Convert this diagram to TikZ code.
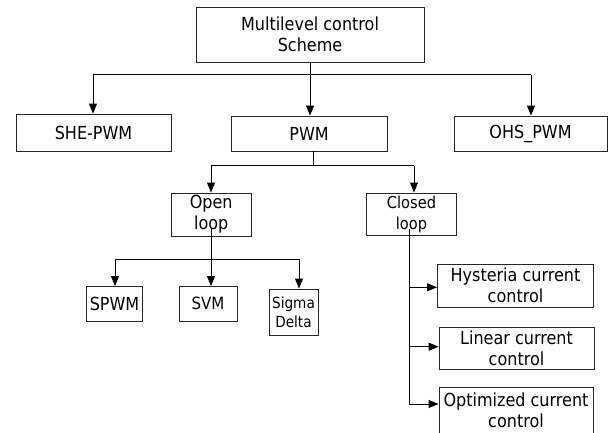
\documentclass[tikz,border=0pt]{standalone}
\usepackage{fontspec}
\setmainfont[FakeStretch=0.89]{DejaVu Sans}
\usetikzlibrary{arrows.meta,calc}
\begin{document}
\begin{tikzpicture}[x=1pt,y=-1pt,
  box/.style={draw=black!85,line width=0.9pt,rectangle,inner sep=0pt,align=center,
    font=\fontsize{18}{21}\selectfont},
  conn/.style={draw=black,line width=0.9pt},
  arr/.style={conn,-{Triangle[length=10pt,width=8pt]}}]
\useasboundingbox (0,0) rectangle (608,432);
% boxes
\node[box,minimum width=228pt,minimum height=55pt] (top) at (310,34.5) {Multilevel control\\Scheme};
\node[box,minimum width=155pt,minimum height=37pt] (she) at (93.5,132.5) {SHE-PWM};
\node[box,minimum width=156pt,minimum height=35pt] (pwm) at (309,133.5) {PWM};
\node[box,minimum width=153pt,minimum height=35pt] (ohs) at (530.5,133.5) {OHS\_PWM};
\node[box,minimum width=80.5pt,minimum height=43pt] (open) at (211.25,214.5) {Open\\loop};
\node[box,minimum width=90pt,minimum height=42pt,font=\fontsize{16.4}{21}\selectfont] (closed) at (411.5,214) {Closed\\loop};
\node[box,minimum width=56pt,minimum height=34.5pt] (spwm) at (114.5,303.75) {SPWM};
\node[box,minimum width=58pt,minimum height=34.5pt,font=\fontsize{16.9}{21}\selectfont] (svm) at (208,303.75) {SVM};
\node[box,minimum width=49pt,minimum height=46pt,font=\fontsize{15.3}{19}\selectfont] (sigma) at (293.5,312) {Sigma\\Delta};
\node[box,minimum width=156pt,minimum height=43pt] (hyst) at (515.5,285.5) {Hysteria current\\control};
\node[box,minimum width=155pt,minimum height=42pt] (lin) at (516.5,348) {Linear current\\control};
\node[box,minimum width=154pt,minimum height=46pt] (opt) at (516,410) {Optimized current\\control};
% level 1 connectors
\coordinate (b1l) at (93,74.5);
\coordinate (b1r) at (531,74.5);
\draw[conn] (b1l) -- (b1r);
\draw[arr] (top.south) -- (top.south |- pwm.north);
\draw[arr] (b1l) -- (b1l |- she.north);
\draw[arr] (b1r) -- (b1r |- ohs.north);
% level 2 connectors
\coordinate (p1) at (313,165.5);
\coordinate (b2l) at (211,165.5);
\coordinate (b2r) at (414,165.5);
\draw[conn] (p1 |- pwm.south) -- (p1);
\draw[conn] (b2l) -- (b2r);
\draw[arr] (b2l) -- (b2l |- open.north);
\draw[arr] (b2r) -- (b2r |- closed.north);
% open loop
\coordinate (o0) at (211,229);
\coordinate (o1) at (211,259);
\coordinate (b3l) at (115,259);
\coordinate (b3r) at (299,259);
\draw[conn] (o0) -- (o1);
\draw[conn] (b3l) -- (b3r);
\draw[arr] (b3l) -- (b3l |- spwm.north);
\draw[arr] (o1) -- (o1 |- svm.north);
\draw[arr] (b3r) -- (b3r |- sigma.north);
% closed loop
\coordinate (c0) at (409,229);
\coordinate (c1) at (409,287.3);
\coordinate (c2) at (409,346.7);
\coordinate (c3) at (409,404);
\draw[conn] (c0) -- (c3);
\draw[arr] (c1) -- (c1 -| hyst.west);
\draw[arr] (c2) -- (c2 -| lin.west);
\draw[arr] (c3) -- (c3 -| opt.west);
\end{tikzpicture}
\end{document}
